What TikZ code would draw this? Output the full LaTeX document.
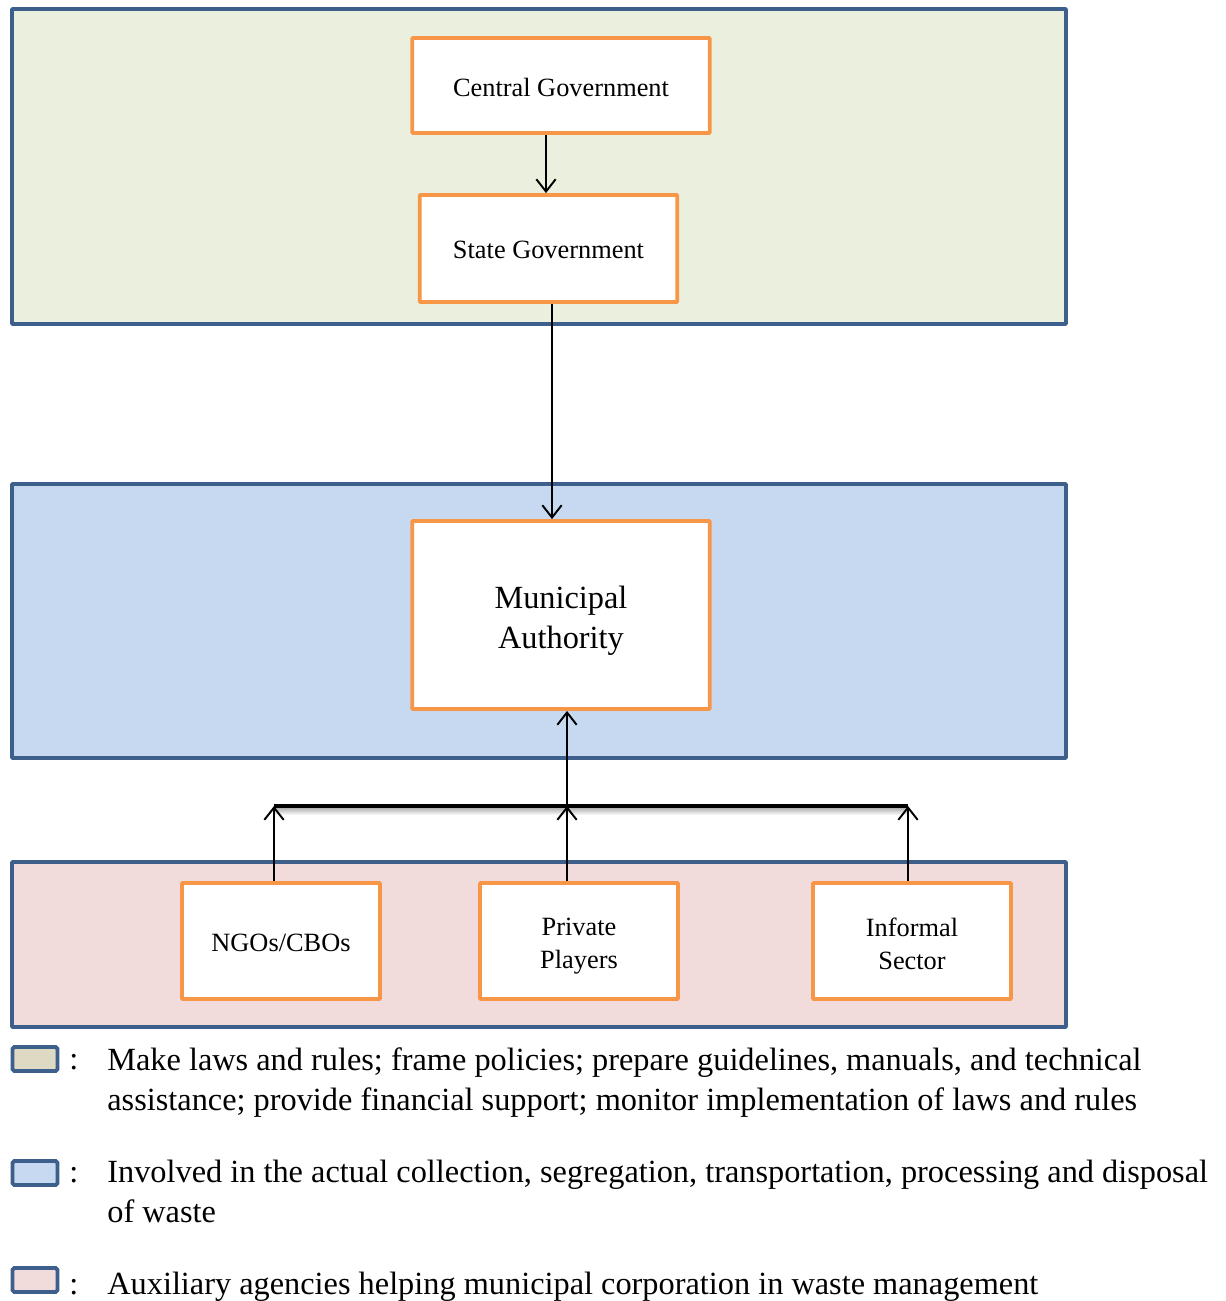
\documentclass[tikz,border=0pt]{standalone}
\usepackage{fontspec}
\setmainfont{Liberation Serif}
\usepackage{xcolor}
\usetikzlibrary{arrows.meta}

\definecolor{cadre}{RGB}{61,95,140}
\definecolor{bordorange}{RGB}{247,150,70}
\definecolor{vertpale}{RGB}{235,240,222}
\definecolor{bleupale}{RGB}{198,217,241}
\definecolor{rosepale}{RGB}{242,220,219}
\definecolor{beige}{RGB}{221,217,195}

\tikzset{
  zone/.style={draw=cadre, line width=2.2pt, rounded corners=0.5pt},
  acteur/.style={draw=bordorange, fill=white, line width=2.2pt, rounded corners=0.5pt,
    align=center, inner sep=0pt, font=\fontsize{15}{18.8}\selectfont},
  fleche/.style={-{Straight Barb[length=7pt,width=11pt]}, line width=1.1pt},
  pastille/.style={draw=cadre, line width=2.2pt, rounded corners=1pt,
    minimum width=0.9cm, minimum height=0.48cm, inner sep=0pt},
  legende/.style={anchor=north west, align=left, inner sep=0pt,
    font=\fontsize{18.4}{22.8}\selectfont},
  deuxpoints/.style={anchor=base west, inner sep=0pt, font=\fontsize{18.4}{22.8}\selectfont}
}

\begin{document}
\begin{tikzpicture}[x=0.02cm, y=-0.02cm]
    \useasboundingbox (0,0) rectangle (1225,1301);
    % zones de fond
    \filldraw[zone, fill=vertpale] (12,9) rectangle (1066,324);
    \filldraw[zone, fill=bleupale] (12,484) rectangle (1066,758);
    \filldraw[zone, fill=rosepale] (12,862) rectangle (1066,1027);

    % acteurs
    \node[acteur, minimum width=5.95cm, minimum height=1.9cm] (central) at (561,85.5) {\rule{0pt}{12.5pt}Central Government};
    \node[acteur, minimum width=5.15cm, minimum height=2.14cm] (state) at (548.5,248.5) {\rule{0pt}{12pt}State Government};
    \node[acteur, minimum width=5.95cm, minimum height=3.76cm,
          font=\fontsize{18.4}{22.8}\selectfont] (municipal) at (561,615) {\rule{0pt}{19pt}Municipal\\Authority};
    \node[acteur, minimum width=3.96cm, minimum height=2.32cm] (ngo) at (281,941) {\rule{0pt}{12pt}NGOs/CBOs};
    \node[acteur, minimum width=3.96cm, minimum height=2.32cm] (private) at (579,941) {\rule{0pt}{15.8pt}Private\\Players};
    \node[acteur, minimum width=3.96cm, minimum height=2.32cm] (informal) at (912,941) {\rule{0pt}{13.6pt}Informal\\Sector};

    % barre commune
    \coordinate (bargauche) at (274,806);
    \coordinate (barmilieu) at (567,806);
    \coordinate (bardroite) at (908,806);
    \shade[top color=black!30, bottom color=white] (274,808) rectangle (908,815);
    \draw[line width=2.8pt] (bargauche) -- (bardroite);

    % fleches
    \draw[fleche] (central.south -| 546,0) -- (state.north -| 546,0);
    \draw[fleche] (state.south -| 552,0) -- (municipal.north -| 552,0);
    \draw[fleche] (barmilieu) -- (municipal.south -| barmilieu);
    \draw[fleche] (ngo.north -| bargauche) -- (bargauche);
    \draw[fleche] (private.north -| barmilieu) -- (barmilieu);
    \draw[fleche] (informal.north -| bardroite) -- (bardroite);

    % legende
    \node[pastille, fill=beige] (sw1) at (35,1059) {};
    \node[pastille, fill=bleupale] (sw2) at (35,1173) {};
    \node[pastille, fill=rosepale] (sw3) at (35,1280) {};
    \node[deuxpoints] (dp1) at (69,1069) {:};
    \node[deuxpoints] (dp2) at (69,1182) {:};
    \node[deuxpoints] (dp3) at (69,1294) {:};
    \node[legende] (txt1) at (107,1047) {Make laws and rules; frame policies; prepare guidelines, manuals, and technical\\assistance; provide financial support; monitor implementation of laws and rules};
    \node[legende] (txt2) at (107,1160) {Involved in the actual collection, segregation, transportation, processing and disposal\\of waste};
    \node[legende] (txt3) at (107,1272) {Auxiliary agencies helping municipal corporation in waste management};
\end{tikzpicture}
\end{document}
